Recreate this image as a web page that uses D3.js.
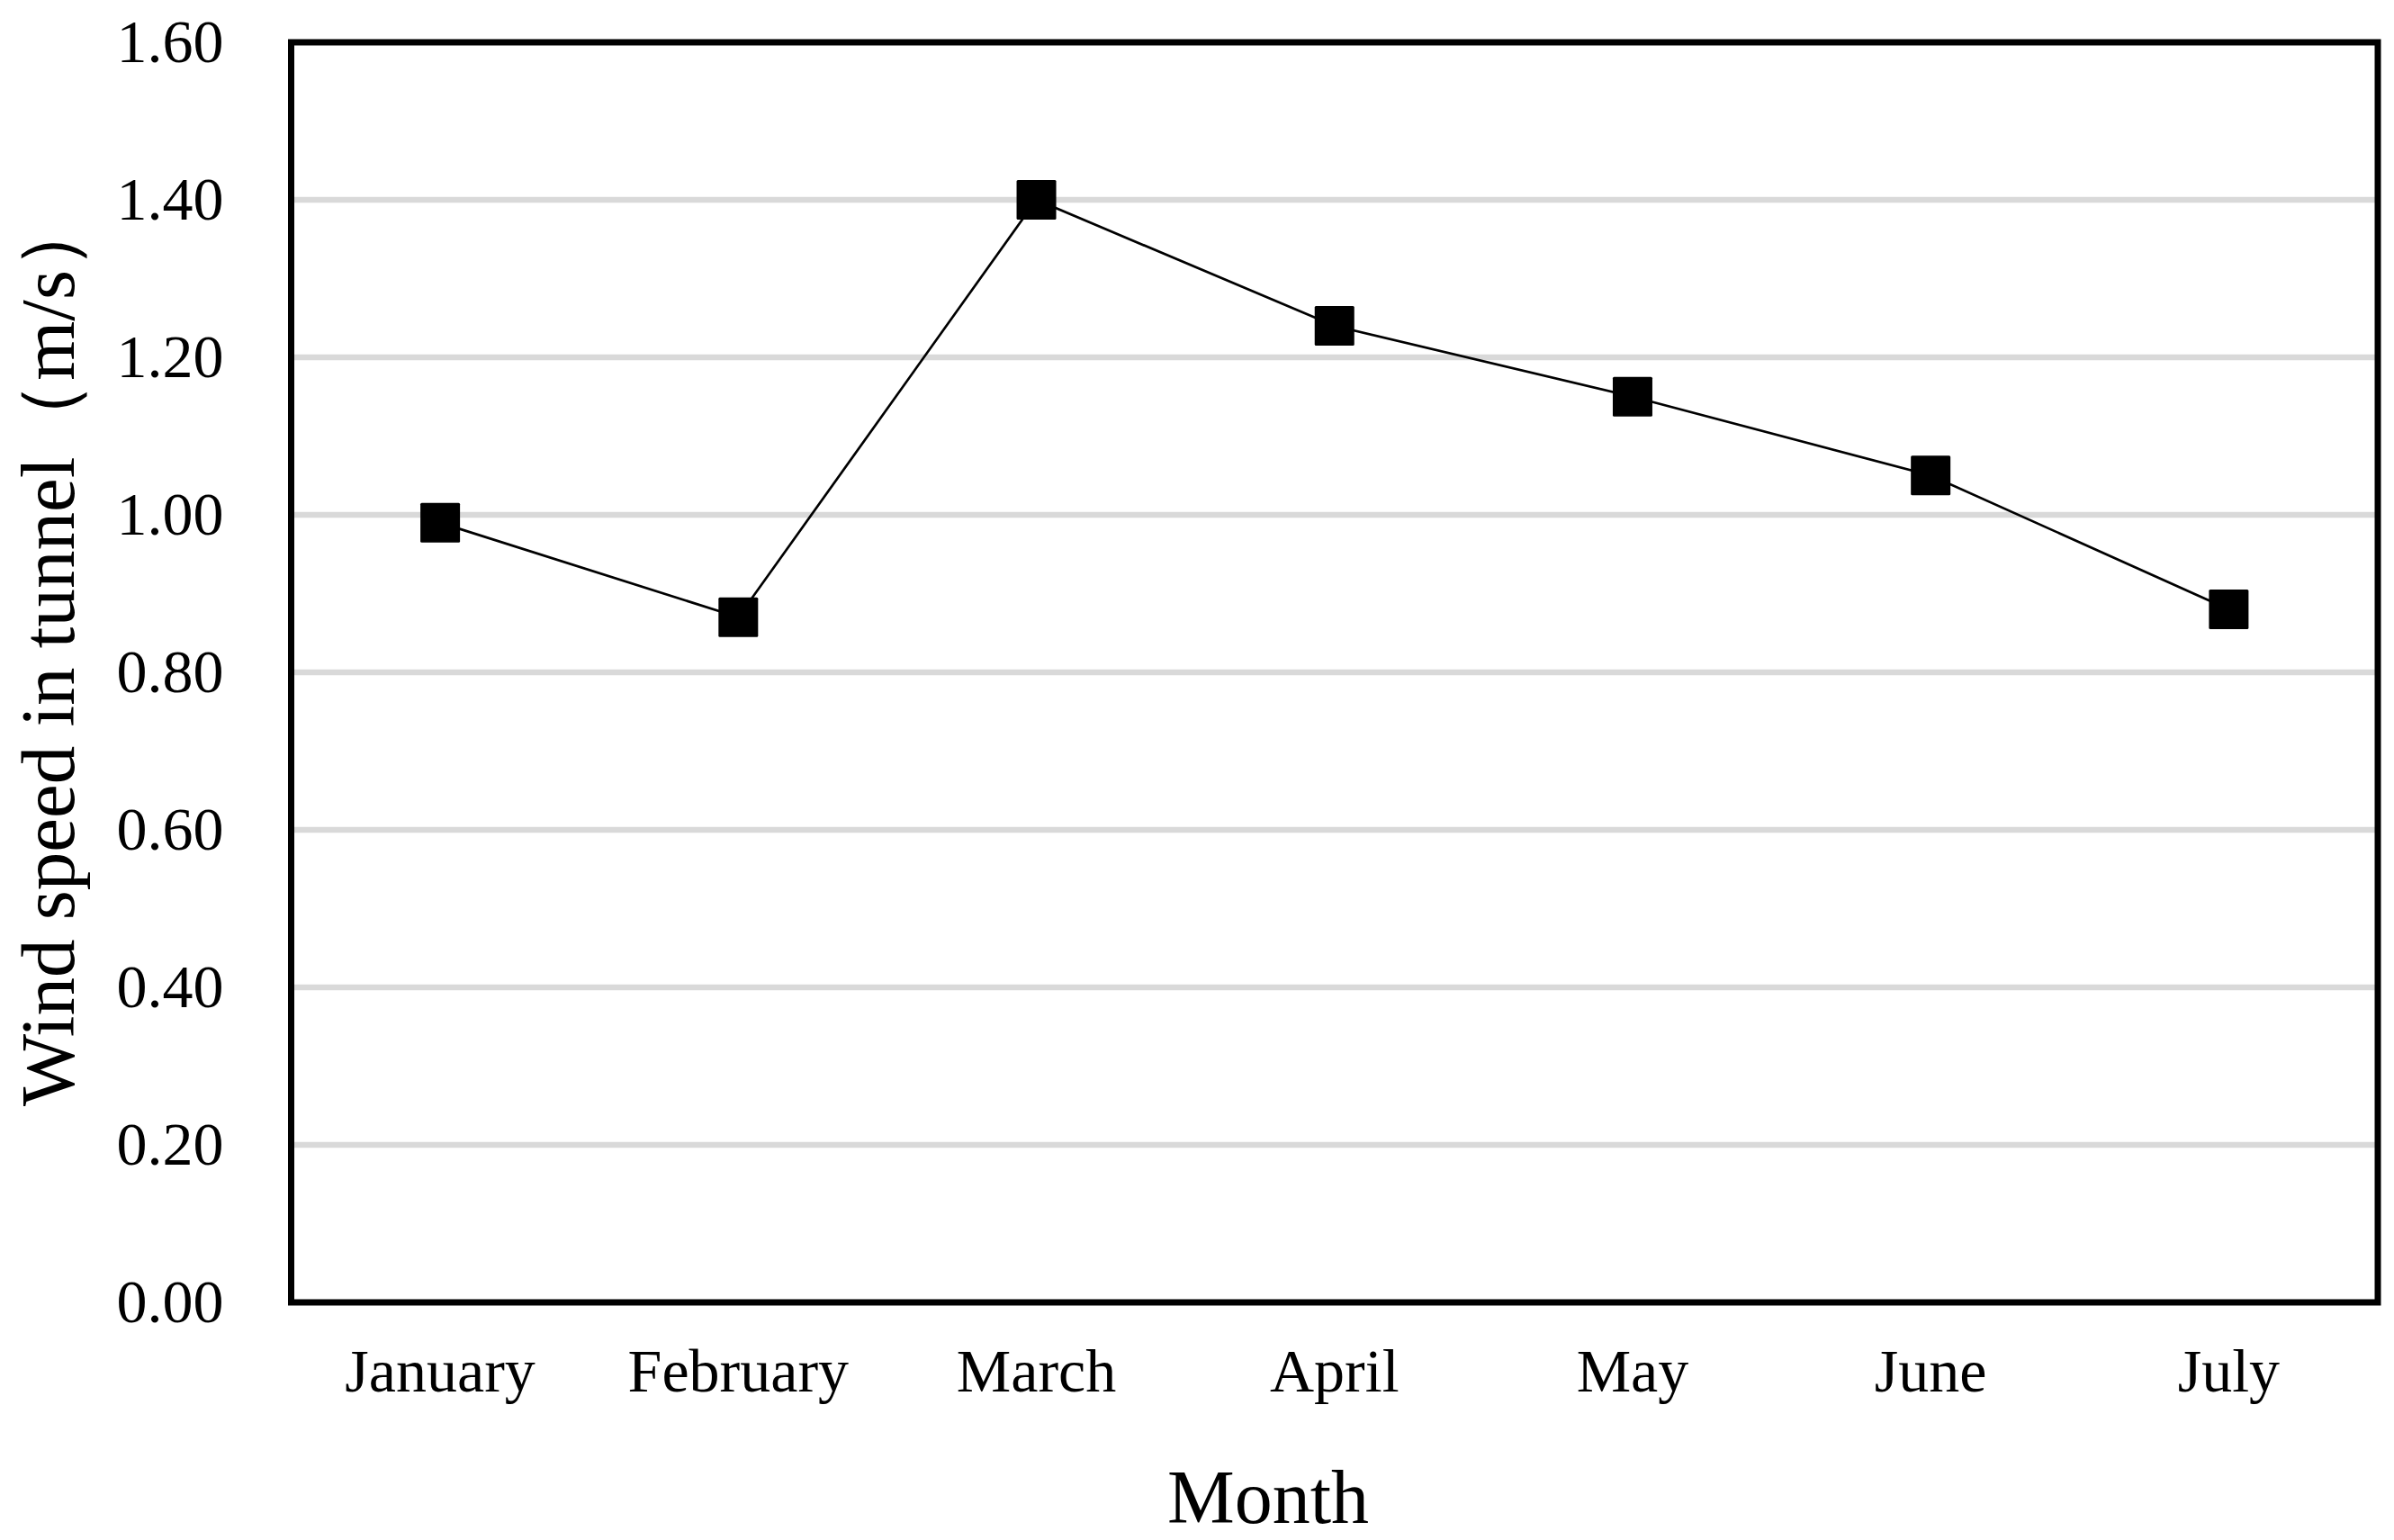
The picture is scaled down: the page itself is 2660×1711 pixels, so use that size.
<!DOCTYPE html>
<html>
<head>
<meta charset="utf-8">
<script src="https://cdn.jsdelivr.net/npm/d3@7"></script>
<style>
html,body{margin:0;padding:0;background:#fff;}
svg{display:block;}
text{font-family:"Liberation Serif","Times New Roman",serif;fill:#000;}
</style>
</head>
<body>
<script>
const months = ["January","February","March","April","May","June","July"];
const windSpeed = [0.99, 0.87, 1.40, 1.24, 1.15, 1.05, 0.88];
const yTicks = [0, 0.2, 0.4, 0.6, 0.8, 1.0, 1.2, 1.4, 1.6];
const xTitle = "Month";
const yTitle = "Wind speed in tunnel（m/s）";

const W = 2660, H = 1711;
const m = {left: 323.5, right: 2642, top: 47, bottom: 1447};

const svg = d3.select("body").append("svg").attr("width", W).attr("height", H);

const x = d3.scaleBand().domain(months).range([m.left, m.right]);
const y = d3.scaleLinear().domain([0, 1.6]).range([m.bottom, m.top]);

// gridlines
svg.append("g").selectAll("line").data(yTicks.filter(d => d > 0 && d < 1.6)).join("line")
  .attr("x1", m.left).attr("x2", m.right)
  .attr("y1", d => y(d)).attr("y2", d => y(d))
  .attr("stroke", "#d9d9d9").attr("stroke-width", 6.5);

// y axis labels
const yAxis = d3.axisLeft(y).tickValues(yTicks).tickFormat(d3.format(".2f")).tickSize(0).tickPadding(75);
const gy = svg.append("g").attr("transform", `translate(${m.left},0)`).call(yAxis);
gy.select(".domain").remove();
gy.selectAll("text").attr("font-size", 68).attr("font-family", '"Liberation Serif","Times New Roman",serif').attr("dy", "0.32em");

// x axis labels
const xAxis = d3.axisBottom(x).tickSize(0).tickPadding(0);
const gx = svg.append("g").attr("transform", `translate(0,${m.bottom})`).call(xAxis);
gx.select(".domain").remove();
gx.selectAll("text").attr("font-size", 68).attr("font-family", '"Liberation Serif","Times New Roman",serif').attr("dy", null).attr("y", 99);

// frame
svg.append("rect")
  .attr("x", m.left).attr("y", m.top)
  .attr("width", m.right - m.left).attr("height", m.bottom - m.top)
  .attr("fill", "none").attr("stroke", "#000").attr("stroke-width", 7);

// line
const cx = d => x(d) + x.bandwidth() / 2;
const line = d3.line().x((d, i) => cx(months[i])).y(d => y(d));
svg.append("path").datum(windSpeed)
  .attr("d", line).attr("fill", "none").attr("stroke", "#000").attr("stroke-width", 2.7);

// markers
const s = 44;
svg.append("g").selectAll("rect").data(windSpeed).join("rect")
  .attr("x", (d, i) => cx(months[i]) - s / 2)
  .attr("y", d => y(d) - s / 2)
  .attr("width", s).attr("height", s).attr("rx", 1.5)
  .attr("fill", "#000");

// axis titles
svg.append("text").attr("x", 1409).attr("y", 1692)
  .attr("text-anchor", "middle").attr("font-size", 84).text(xTitle);

svg.append("text")
  .attr("transform", "translate(82,722) rotate(-90)")
  .attr("text-anchor", "middle").attr("font-size", 85).text(yTitle);
</script>
</body>
</html>
